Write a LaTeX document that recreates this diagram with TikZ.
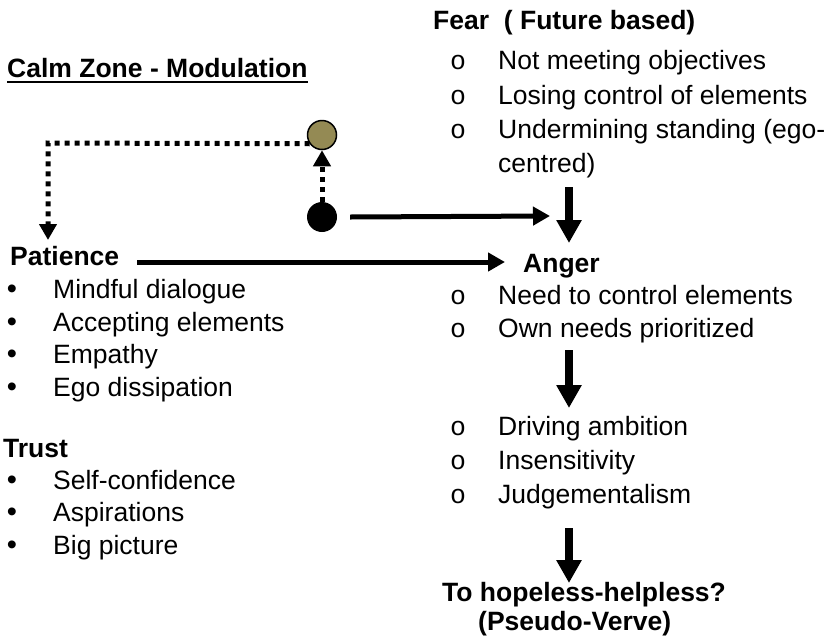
\documentclass[tikz,border=0pt]{standalone}
\usepackage{fontspec}
\setmainfont{Liberation Sans}
\newfontfamily\mymono{Liberation Mono}
\usetikzlibrary{arrows.meta}
\definecolor{tanfill}{RGB}{148,138,84}
\begin{document}
\begin{tikzpicture}[x=1pt,y=-1pt,
  txt/.style={anchor=base west, inner sep=0pt, font=\fontsize{26.5}{32}\selectfont},
  headtxt/.style={anchor=base west, inner sep=0pt, font=\fontsize{26.5}{32}\selectfont\bfseries},
  bul/.style={anchor=base, inner sep=0pt, font=\fontsize{29}{32}\selectfont},
  obul/.style={anchor=base, inner sep=0pt, font=\fontsize{26.5}{32}\selectfont\mymono},
  solidarrow/.style={line width=5pt, -{Triangle[length=17pt,width=18pt]}},
  bigarrow/.style={line width=8pt, -{Triangle[length=23pt,width=24pt]}},
  dotarrow/.style={line width=5pt, dash pattern=on 5pt off 5pt, -{Triangle[length=16pt,width=17pt]}},
]
\useasboundingbox (0,0) rectangle (829,635);

% Calm zone title
\node[headtxt] (calm) at (7,77) {Calm Zone - Modulation};
\draw[line width=2.5pt] ([yshift=-5pt]calm.base west) -- ([yshift=-5pt]calm.base east);

% Fear block
\node[headtxt] (fear) at (433,29) {Fear\ \ ( Future based)};
\node[obul] (fo1) at (458,69) {o};
\node[txt] (f1) at (498,69) {Not meeting objectives};
\node[obul] (fo2) at (458,104) {o};
\node[txt] (f2) at (498,104) {Losing control of elements};
\node[obul] (fo3) at (458,138) {o};
\node[txt] (f3) at (498,138) {Undermining standing (ego-};
\node[txt] (f4) at (498,172) {centred)};

% circles
\node[circle, draw, line width=1.5pt, fill=tanfill, minimum size=29pt, inner sep=0pt] (tan) at (322,135) {};
\node[circle, fill=black, minimum size=30pt, inner sep=0pt] (blk) at (322,217) {};

% Patience block
\node[headtxt] (pat) at (10,265) {Patience};
\node[bul] (pb1) at (12,298) {\textbullet};
\node[txt] (p1) at (53,298) {Mindful dialogue};
\node[bul] (pb2) at (12,331) {\textbullet};
\node[txt] (p2) at (53,331) {Accepting elements};
\node[bul] (pb3) at (12,363) {\textbullet};
\node[txt] (p3) at (53,363) {Empathy};
\node[bul] (pb4) at (12,396) {\textbullet};
\node[txt] (p4) at (53,396) {Ego dissipation};

% Trust block
\node[headtxt] (trust) at (3,457) {Trust};
\node[bul] (tb1) at (12,489) {\textbullet};
\node[txt] (t1) at (53,489) {Self-confidence};
\node[bul] (tb2) at (12,521) {\textbullet};
\node[txt] (t2) at (53,521) {Aspirations};
\node[bul] (tb3) at (12,554) {\textbullet};
\node[txt] (t3) at (53,554) {Big picture};

% Anger block
\node[headtxt] (anger) at (523,272) {Anger};
\node[obul] (ao1) at (458,304) {o};
\node[txt] (a1) at (498,304) {Need to control elements};
\node[obul] (ao2) at (458,337) {o};
\node[txt] (a2) at (498,337) {Own needs prioritized};

\node[obul] (do1) at (458,435) {o};
\node[txt] (d1) at (498,435) {Driving ambition};
\node[obul] (do2) at (458,469) {o};
\node[txt] (d2) at (498,469) {Insensitivity};
\node[obul] (do3) at (458,503) {o};
\node[txt] (d3) at (498,503) {Judgementalism};

\node[headtxt] (hope) at (442,601) {To hopeless-helpless?};
\node[headtxt] (pseudo) at (478,630) {(Pseudo-Verve)};

% coordinates for connector ends
\coordinate (corner) at (48,143);
\coordinate (dtip) at (48,240);
\coordinate (blktip) at (550,216);
\coordinate (fearbot) at (569,187);
\coordinate (angertop) at (569,243);
\coordinate (angerbot) at (569,350);
\coordinate (drvtop) at (569,408);
\coordinate (drvbot) at (569,528);
\coordinate (hopetop) at (569,583);

% dotted connectors
\draw[dotarrow] (tan.215) -- (corner) -- (dtip);
\draw[dotarrow] (blk.north) -- (tan.south);

% solid connectors
\draw[solidarrow] ([xshift=13pt]blk.east) -- (blktip);
\draw[solidarrow] ([shift={(18,-3)}]pat.base east) -- ([shift={(-18,-10)}]anger.base west);
\draw[bigarrow] (fearbot) -- (angertop);
\draw[bigarrow] (angerbot) -- (drvtop);
\draw[bigarrow] (drvbot) -- (hopetop);
\end{tikzpicture}
\end{document}
